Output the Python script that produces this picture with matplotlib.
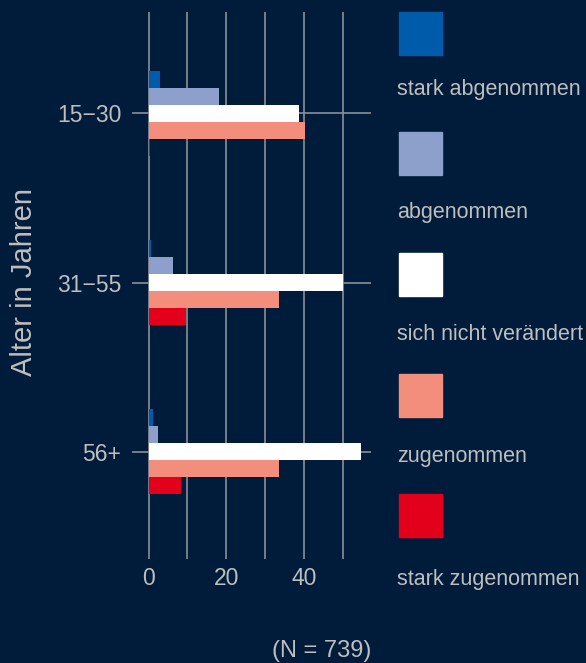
import numpy as np
import matplotlib.pyplot as plt
from matplotlib.patches import Rectangle

# data (percent per age group)
age_groups = ["15\u221230", "31\u221255", "56+"]
categories = ["stark abgenommen", "abgenommen", "sich nicht verändert",
              "zugenommen", "stark zugenommen"]
stark_ab = [3.0, 0.7, 1.2]
ab = [18.2, 6.4, 2.5]
unveraendert = [38.7, 50.0, 54.7]
zu = [40.3, 33.6, 33.6]
stark_zu = [0.3, 9.6, 8.4]
x_ticks = [0, 20, 40]
x_minor = [10, 30, 50]
colors = ["#005BAA", "#8DA0CB", "#FFFFFF", "#F28E7B", "#E2001A"]

bg = "#001C3A"
txt = "#BEBEBE"
grid = "#8A9099"

plt.rcParams["font.family"] = ["Liberation Sans", "DejaVu Sans"]

W, H = 586, 663
fig = plt.figure(figsize=(W / 100, H / 100), dpi=100, facecolor=bg)
ax = fig.add_axes([138 / W, 1 - 553 / H, (371 - 138) / W, (553 - 12) / H])
ax.set_facecolor(bg)

series = [stark_ab, ab, unveraendert, zu, stark_zu]
y = np.arange(len(age_groups))
h = 0.1
for i, (vals, col) in enumerate(zip(series, colors)):
    ax.barh(y + (i - 2) * h, vals, height=h, color=col, zorder=3)

ax.set_xlim(-2.7, 57.2)
ax.set_ylim(2.6, -0.6)
ax.set_xticks(x_ticks)
ax.set_xticks(x_minor, minor=True)
ax.set_yticks(y)
ax.set_yticklabels(age_groups)
ax.grid(True, which="both", axis="x", color=grid, lw=1.2, zorder=1)
ax.grid(True, axis="y", color=grid, lw=1.2, zorder=1)
for s in ax.spines.values():
    s.set_visible(False)
ax.tick_params(which="both", colors=grid, length=4, width=1.2,
               labelcolor=txt, labelsize=16.5, pad=6)
ax.tick_params(axis="y", pad=8)
ax.set_ylabel("Alter in Jahren", color=txt, fontsize=21, labelpad=14)

# legend: square above label
for i, (lab, col) in enumerate(zip(categories, colors)):
    top = 12 + i * 120.5
    fig.add_artist(Rectangle((399 / W, 1 - (top + 43) / H), 43 / W, 43 / H,
                             transform=fig.transFigure, color=col))
    fig.text(397 / W, 1 - (90 + i * 122.3) / H, lab, color=txt,
             fontsize=15.5, ha="left", va="center")

fig.text(322 / W, 1 - 651 / H, "(N = 739)", color=txt, fontsize=17,
         ha="center", va="center")

fig.savefig("out.png", dpi=100, facecolor=bg)
